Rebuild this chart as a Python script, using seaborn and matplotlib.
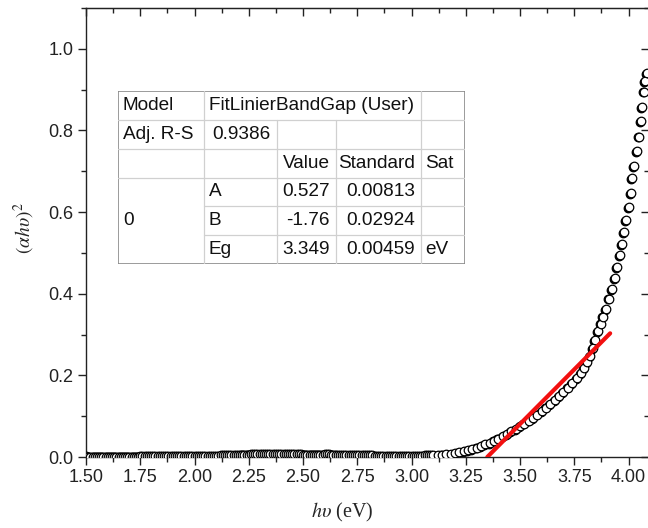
import numpy as np
import pandas as pd
import matplotlib
matplotlib.use("Agg")
import matplotlib.pyplot as plt
from matplotlib.ticker import MultipleLocator, FormatStrFormatter
from matplotlib.transforms import ScaledTranslation
import seaborn as sns

# Tauc plot data: photon energy (eV) vs (alpha*h*nu)^2
# flat part (below the gap), sampled densely
flat_energy = [
    1.50, 1.51, 1.52, 1.53, 1.54, 1.55, 1.56, 1.57, 1.58, 1.59,
    1.60, 1.61, 1.62, 1.63, 1.64, 1.65, 1.66, 1.67, 1.68, 1.69,
    1.70, 1.71, 1.72, 1.73, 1.74, 1.75, 1.76, 1.77, 1.78, 1.79,
    1.80, 1.81, 1.82, 1.83, 1.84, 1.85, 1.86, 1.87, 1.88, 1.89,
    1.90, 1.91, 1.92, 1.93, 1.94, 1.95, 1.96, 1.97, 1.98, 1.99,
    2.00, 2.01, 2.02, 2.03, 2.04, 2.05, 2.06, 2.07, 2.08, 2.09,
    2.10, 2.11, 2.12, 2.13, 2.14, 2.15, 2.16, 2.17, 2.18, 2.19,
    2.20, 2.21, 2.22, 2.23, 2.24, 2.25, 2.26, 2.27, 2.28, 2.29,
    2.30, 2.31, 2.32, 2.33, 2.34, 2.35, 2.36, 2.37, 2.38, 2.39,
    2.40, 2.41, 2.42, 2.43, 2.44, 2.45, 2.46, 2.47, 2.48, 2.49,
    2.50, 2.51, 2.52, 2.53, 2.54, 2.55, 2.56, 2.57, 2.58, 2.59,
    2.60, 2.61, 2.62, 2.63, 2.64, 2.65, 2.66, 2.67, 2.68, 2.69,
    2.70, 2.71, 2.72, 2.73, 2.74, 2.75, 2.76, 2.77, 2.78, 2.79,
    2.80, 2.81, 2.82, 2.83, 2.84, 2.85, 2.86, 2.87, 2.88, 2.89,
    2.90, 2.91, 2.92, 2.93, 2.94, 2.95, 2.96, 2.97, 2.98, 2.99,
    3.00, 3.01, 3.02, 3.03, 3.04, 3.05, 3.06, 3.07, 3.08, 3.09,
]
flat_tauc = [
    0.002, 0.001, 0.001, 0.001, 0.001, 0.001, 0.001, 0.001, 0.001, 0.001,
    0.001, 0.001, 0.001, 0.001, 0.001, 0.001, 0.001, 0.001, 0.001, 0.001,
    0.001, 0.001, 0.001, 0.001, 0.001, 0.002, 0.002, 0.002, 0.002, 0.002,
    0.002, 0.002, 0.002, 0.002, 0.002, 0.002, 0.002, 0.002, 0.002, 0.002,
    0.002, 0.002, 0.002, 0.002, 0.003, 0.003, 0.003, 0.003, 0.003, 0.003,
    0.003, 0.003, 0.003, 0.003, 0.003, 0.003, 0.003, 0.003, 0.003, 0.003,
    0.003, 0.003, 0.004, 0.004, 0.004, 0.004, 0.004, 0.005, 0.005, 0.005,
    0.005, 0.005, 0.006, 0.006, 0.006, 0.006, 0.007, 0.007, 0.007, 0.007,
    0.007, 0.007, 0.008, 0.008, 0.008, 0.008, 0.008, 0.008, 0.008, 0.008,
    0.008, 0.008, 0.008, 0.007, 0.007, 0.007, 0.007, 0.007, 0.007, 0.007,
    0.006, 0.006, 0.006, 0.006, 0.006, 0.006, 0.006, 0.006, 0.006, 0.006,
    0.007, 0.007, 0.007, 0.006, 0.006, 0.006, 0.005, 0.005, 0.005, 0.005,
    0.005, 0.005, 0.004, 0.004, 0.004, 0.004, 0.004, 0.004, 0.004, 0.004,
    0.004, 0.004, 0.004, 0.003, 0.003, 0.003, 0.003, 0.003, 0.003, 0.003,
    0.003, 0.003, 0.003, 0.003, 0.003, 0.003, 0.003, 0.003, 0.003, 0.003,
    0.003, 0.003, 0.003, 0.003, 0.003, 0.003, 0.004, 0.004, 0.004, 0.004,
]
# absorption edge
edge_energy = [
    3.10, 3.12, 3.14, 3.16, 3.18, 3.20, 3.22, 3.24, 3.26, 3.28,
    3.30, 3.32, 3.34, 3.36, 3.38, 3.40, 3.42, 3.44, 3.46, 3.48,
    3.50, 3.52, 3.54, 3.56, 3.58, 3.60, 3.62, 3.64, 3.66, 3.68,
    3.70, 3.72, 3.74, 3.76, 3.78, 3.795, 3.81, 3.823, 3.835, 3.847,
    3.859, 3.871, 3.883, 3.896, 3.910, 3.924, 3.937, 3.948, 3.960, 3.970,
    3.979, 3.988, 4.002, 4.010, 4.017, 4.026, 4.039, 4.048, 4.057, 4.064,
    4.071, 4.077, 4.084,
]
edge_tauc = [
    0.004, 0.005, 0.006, 0.007, 0.008, 0.010, 0.012, 0.014, 0.017, 0.020,
    0.023, 0.027, 0.031, 0.035, 0.040, 0.045, 0.051, 0.057, 0.063, 0.069,
    0.075, 0.082, 0.089, 0.096, 0.104, 0.112, 0.121, 0.130, 0.139, 0.149,
    0.159, 0.170, 0.181, 0.193, 0.206, 0.218, 0.232, 0.248, 0.266, 0.287,
    0.309, 0.327, 0.344, 0.363, 0.388, 0.412, 0.439, 0.466, 0.495, 0.522,
    0.551, 0.580, 0.612, 0.646, 0.683, 0.712, 0.749, 0.785, 0.822, 0.858,
    0.895, 0.920, 0.940,
]

# linear fit (red line), from Eg up to ~3.9 eV
fit_x = [3.349, 3.915]
fit_y = [0.0, 0.303]

# fit report table
table_rows = [
    ["Model", "FitLinierBandGap (User)", "", "", ""],
    ["Adj. R-S", "0.9386", "", "", ""],
    ["", "", "Value", "Standard", "Sat"],
    ["", "A", "0.527", "0.00813", ""],
    ["0", "B", "-1.76", "0.02924", ""],
    ["", "Eg", "3.349", "0.00459", "eV"],
]

sns.set_style("ticks")
plt.rcParams["font.family"] = ["Liberation Sans", "DejaVu Sans"]
plt.rcParams["mathtext.fontset"] = "stix"

fig = plt.figure(figsize=(6.48, 5.28), dpi=100)
ax = fig.add_axes([86 / 648, 71 / 528, 563 / 648, 449 / 528])

df = pd.DataFrame({"energy": flat_energy + edge_energy,
                   "tauc": flat_tauc + edge_tauc})

# dark "shadow" behind each open circle, shifted down-left a little
sns.scatterplot(data=df, x="energy", y="tauc", ax=ax, marker="o", s=38,
                color="black", edgecolor="black", linewidth=0.9, zorder=2)
shadow = ax.collections[-1]
shadow.set_offset_transform(
    ax.transData + ScaledTranslation(-1.0 / 100, -0.8 / 100, fig.dpi_scale_trans))
sns.scatterplot(data=df, x="energy", y="tauc", ax=ax, marker="o", s=38,
                facecolor="white", edgecolor="black", linewidth=0.9, zorder=3)
sns.lineplot(x=fit_x, y=fit_y, ax=ax, color="#f21010", linewidth=3.0,
             zorder=4)

ax.set_xlim(1.5, 4.094)
ax.set_ylim(0.0, 1.1)
ax.xaxis.set_major_locator(MultipleLocator(0.25))
ax.xaxis.set_minor_locator(MultipleLocator(0.125))
ax.yaxis.set_major_locator(MultipleLocator(0.2))
ax.yaxis.set_minor_locator(MultipleLocator(0.1))
ax.xaxis.set_major_formatter(FormatStrFormatter("%.2f"))
ax.yaxis.set_major_formatter(FormatStrFormatter("%.1f"))

for s in ax.spines.values():
    s.set_linewidth(1.0)
    s.set_color("#222222")
    s.set_visible(True)

ax.tick_params(which="major", direction="out", length=6, width=1.0,
               labelsize=13, colors="#222222", pad=3)
ax.tick_params(which="minor", direction="out", length=3.5, width=1.0,
               colors="#222222")
# top/right mirror ticks point inward
secx = ax.secondary_xaxis("top")
secx.xaxis.set_major_locator(MultipleLocator(0.25))
secx.xaxis.set_minor_locator(MultipleLocator(0.125))
secx.tick_params(which="major", direction="in", length=6, width=1.0,
                 labeltop=False, colors="#222222")
secx.tick_params(which="minor", direction="in", length=3.5, width=1.0,
                 colors="#222222")
secy = ax.secondary_yaxis("right")
secy.yaxis.set_major_locator(MultipleLocator(0.2))
secy.yaxis.set_minor_locator(MultipleLocator(0.1))
secy.tick_params(which="major", direction="in", length=6, width=1.0,
                 labelright=False, colors="#222222")
secy.tick_params(which="minor", direction="in", length=3.5, width=1.0,
                 colors="#222222")

ax.set_xlabel(r"$h\upsilon$ (eV)", fontsize=14.5, family="Liberation Serif")
ax.set_ylabel(r"$(\alpha h\upsilon)^2$", fontsize=14,
              family="Liberation Serif")
ax.xaxis.set_label_coords(0.456, -0.097)
ax.yaxis.set_label_coords(-0.087, 0.51)

# fit report table drawn in its own inset axes (pixel units)
tw, th = 346.7, 173.6
tab = fig.add_axes([118.3 / 648, (528 - 264.3) / 528, tw / 648, th / 528])
tab.set_xlim(0, tw)
tab.set_ylim(6, 0)
tab.axis("off")
tab.add_patch(plt.Rectangle((0, 0), tw, 6, facecolor="white",
                            edgecolor="#8a8a8a", linewidth=1.2, zorder=1))
col_edges = [0, 86, 158.4, 217.7, 302.7, tw]
grid_c = "#d0d0d0"
for yy in [1, 2, 3]:
    tab.plot([0, tw], [yy, yy], color=grid_c, lw=0.9, zorder=2)
for yy in [4, 5]:
    tab.plot([86, tw], [yy, yy], color=grid_c, lw=0.9, zorder=2)
tab.plot([86, 86], [0, 6], color=grid_c, lw=0.9, zorder=2)
tab.plot([302.7, 302.7], [0, 6], color=grid_c, lw=0.9, zorder=2)
for xx in [158.4, 217.7]:
    tab.plot([xx, xx], [1, 6], color=grid_c, lw=0.9, zorder=2)

right_aligned = {(1, 1), (2, 2), (2, 3), (3, 2), (4, 2), (5, 2),
                 (3, 3), (4, 3), (5, 3)}
for r, row in enumerate(table_rows):
    for c, txt in enumerate(row):
        if not txt:
            continue
        if (r, c) in right_aligned:
            tab.text(col_edges[c + 1] - 6, r + 0.5, txt, ha="right",
                     va="center", fontsize=13.7, color="#111111", zorder=3)
        else:
            tab.text(col_edges[c] + 4.5, r + 0.5, txt, ha="left",
                     va="center", fontsize=13.7, color="#111111", zorder=3)

fig.savefig("out.png", dpi=100)
